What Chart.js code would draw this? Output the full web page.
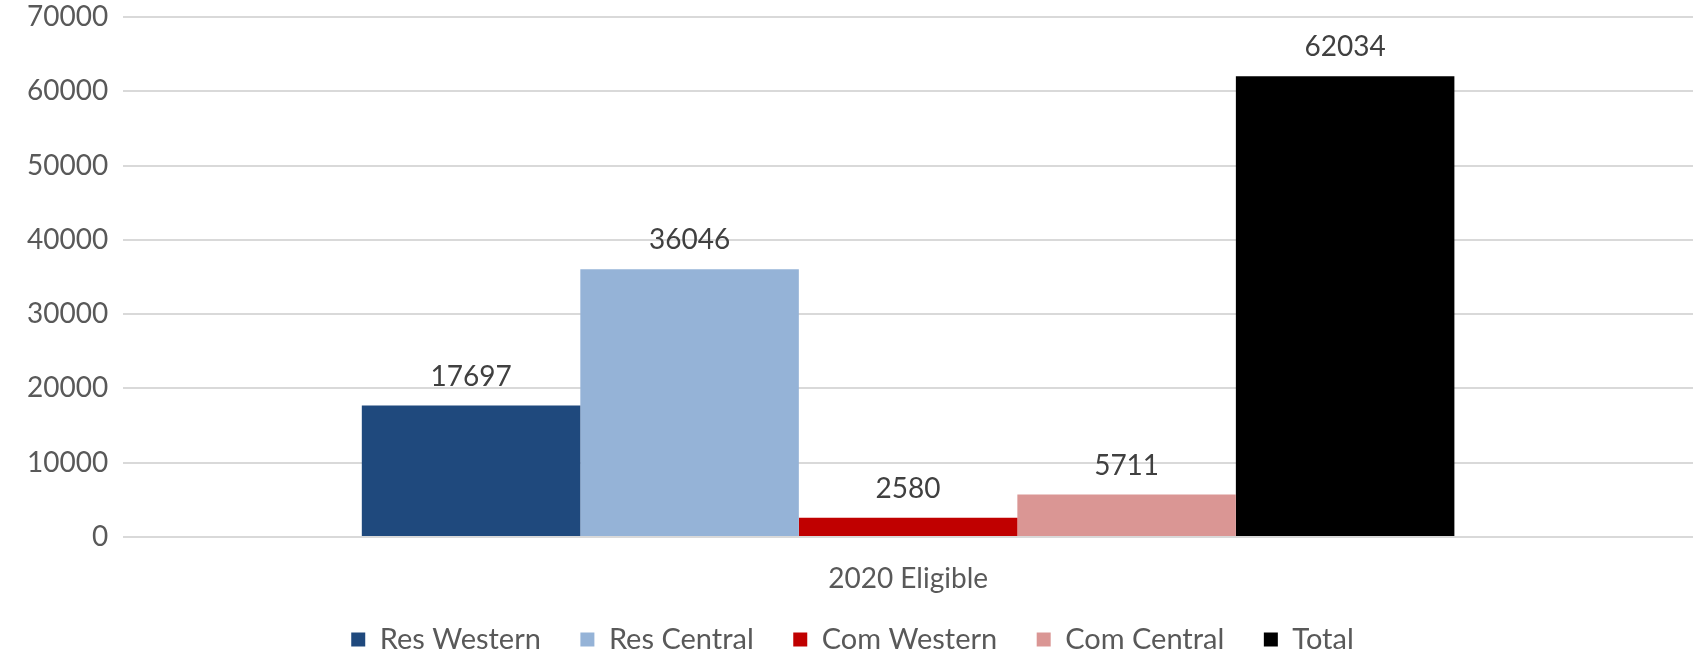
<!DOCTYPE html>
<html>
<head>
<meta charset="utf-8">
<script src="https://cdn.jsdelivr.net/npm/chart.js@4.4.0/dist/chart.umd.min.js"></script>
<style>
  html, body { margin: 0; padding: 0; background: #fff; }
  #wrap { width: 1702px; height: 656px; }
</style>
</head>
<body>
<div id="wrap"><canvas id="eligibleChart" width="1702" height="656"></canvas></div>
<script>
// Chart data
const categories = ["2020 Eligible"];
const seriesNames = ["Res Western", "Res Central", "Com Western", "Com Central", "Total"];
const seriesValues = [[17697], [36046], [2580], [5711], [62034]];
const seriesColors = ["#1f497d", "#95b3d7", "#c00000", "#da9694", "#000000"];
const yTicks = [0, 10000, 20000, 30000, 40000, 50000, 60000, 70000];

const fontFamily = "Lato, 'Open Sans', sans-serif";

// draws the value above each bar
const valueLabels = {
  id: "valueLabels",
  afterDatasetsDraw(chart) {
    const ctx = chart.ctx;
    ctx.save();
    ctx.font = `28px ${fontFamily}`;
    ctx.fillStyle = "#404040";
    ctx.textAlign = "center";
    ctx.textBaseline = "alphabetic";
    chart.data.datasets.forEach((ds, i) => {
      chart.getDatasetMeta(i).data.forEach((bar, j) => {
        ctx.fillText(String(ds.data[j]), bar.x, bar.y - 20);
      });
    });
    ctx.restore();
  },
};

const config = {
  type: "bar",
  data: {
    labels: categories,
    datasets: seriesNames.map((name, i) => ({
      label: name,
      data: seriesValues[i],
      backgroundColor: seriesColors[i],
      barPercentage: 1,
      categoryPercentage: 0.696,
    })),
  },
  options: {
    responsive: false,
    animation: false,
    devicePixelRatio: 1,
    layout: { padding: { top: 17, left: 12, right: 9, bottom: -8 } },
    scales: {
      x: {
        grid: { display: false, drawTicks: false },
        border: { display: false },
        afterFit: (axis) => {
          axis.height = 63;
        },
        ticks: {
          color: "#595959",
          font: { size: 28, family: fontFamily, lineHeight: 0.5 },
          padding: 35,
        },
      },
      y: {
        min: 0,
        max: 70000,
        afterBuildTicks: (axis) => {
          axis.ticks = yTicks.map((v) => ({ value: v }));
        },
        afterFit: (axis) => {
          // labels may stick out of the plot area, like in the original
          axis.paddingTop = 0;
          axis.paddingBottom = 0;
        },
        grid: { color: "#d9d9d9", lineWidth: 2, drawTicks: false },
        border: { display: false },
        ticks: {
          color: "#595959",
          font: { size: 28, family: fontFamily },
          padding: 15,
          callback: (value) => String(value),
        },
      },
    },
    plugins: {
      legend: {
        position: "bottom",
        labels: {
          color: "#595959",
          font: { size: 29, family: fontFamily },
          boxWidth: 14,
          boxHeight: 14,
          padding: 25,
          // wider gap between the legend items
          generateLabels: (chart) => {
            const items = Chart.defaults.plugins.legend.labels.generateLabels(chart);
            return items.map((item, i) => ({
              ...item,
              text: i < items.length - 1 ? item.text + "\u2002" : item.text,
            }));
          },
        },
      },
      tooltip: { enabled: false },
    },
  },
  plugins: [valueLabels],
};

let myChart = new Chart(document.getElementById("eligibleChart"), config);
</script>
</body>
</html>
